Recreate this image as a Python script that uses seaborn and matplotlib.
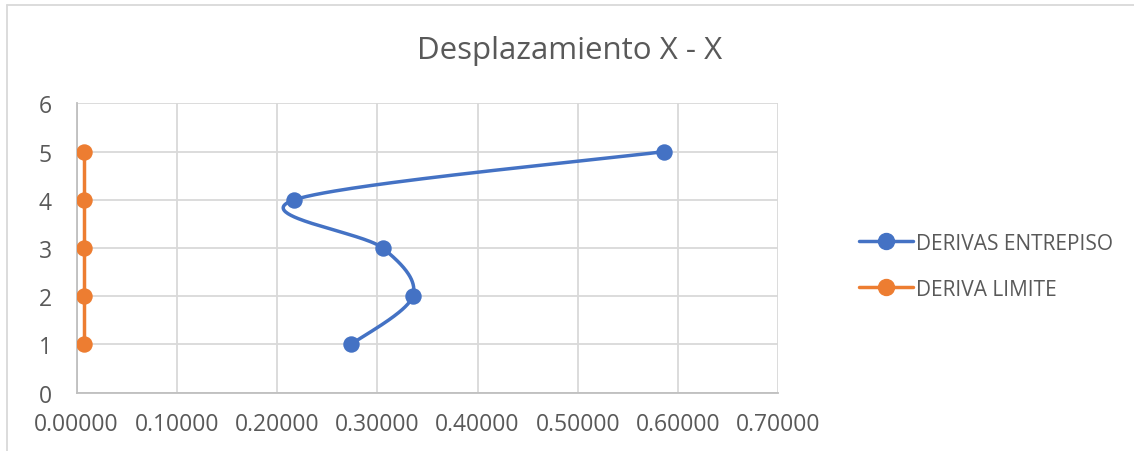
import numpy as np
import matplotlib
matplotlib.use("Agg")
import matplotlib.pyplot as plt
from matplotlib.lines import Line2D
import seaborn as sns

# Story drift data (x = drift, y = story level)
pisos = [1, 2, 3, 4, 5]
derivas_entrepiso = [0.2738, 0.3354, 0.3054, 0.2172, 0.5862]
deriva_limite = [0.007, 0.007, 0.007, 0.007, 0.007]
x_ticks = [0.0, 0.1, 0.2, 0.3, 0.4, 0.5, 0.6, 0.7]
y_ticks = [0, 1, 2, 3, 4, 5, 6]
titulo = "Desplazamiento X - X"
nombres = ["DERIVAS ENTREPISO", "DERIVA LIMITE"]

AZUL = "#4472C4"
NARANJA = "#ED7D31"
GRIS_TXT = "#595959"
GRIS_GRID = "#D9D9D9"

sns.set_theme(style="white")
plt.rcParams["font.family"] = ["Open Sans", "DejaVu Sans"]


def catmull_rom(xs, ys, n=60):
    """Parametric smooth curve through the points (Excel-like smoothed line)."""
    p = np.column_stack([xs, ys]).astype(float)
    p = np.vstack([p[0], p, p[-1]])
    out = []
    t = np.linspace(0, 1, n)[:, None]
    for i in range(1, len(p) - 2):
        p0, p1, p2, p3 = p[i - 1], p[i], p[i + 1], p[i + 2]
        m1 = (p2 - p0) / 2
        m2 = (p3 - p1) / 2
        h00 = 2 * t**3 - 3 * t**2 + 1
        h10 = t**3 - 2 * t**2 + t
        h01 = -2 * t**3 + 3 * t**2
        h11 = t**3 - t**2
        seg = h00 * p1 + h10 * m1 + h01 * p2 + h11 * m2
        out.append(seg if i == 1 else seg[1:])
    c = np.vstack(out)
    return c[:, 0], c[:, 1]


fig = plt.figure(figsize=(11.34, 4.52), dpi=100)
ax = fig.add_axes([0.0676, 0.129, 0.6186, 0.6401])

# Smoothed drift curve and its markers
cx, cy = catmull_rom(derivas_entrepiso, pisos)
sns.lineplot(x=cx, y=cy, sort=False, estimator=None, ax=ax,
             color=AZUL, linewidth=2.5, zorder=3)
sns.scatterplot(x=derivas_entrepiso, y=pisos, ax=ax, color=AZUL,
                s=140, edgecolor=AZUL, linewidth=0, zorder=4)

# Drift limit
sns.lineplot(x=deriva_limite, y=pisos, sort=False, estimator=None, ax=ax,
             color=NARANJA, linewidth=2.5, zorder=3)
sns.scatterplot(x=deriva_limite, y=pisos, ax=ax, color=NARANJA,
                s=140, edgecolor=NARANJA, linewidth=0, zorder=4)

ax.set_xlim(x_ticks[0], x_ticks[-1])
ax.set_ylim(y_ticks[0], y_ticks[-1])
ax.set_xticks(x_ticks)
ax.set_yticks(y_ticks)
ax.set_xticklabels([f"{v:.5f}" for v in x_ticks])
ax.set_yticklabels([str(v) for v in y_ticks])
ax.tick_params(axis="both", length=0, labelsize=16.5, labelcolor=GRIS_TXT)
ax.tick_params(axis="x", pad=14)
ax.tick_params(axis="y", pad=18)

ax.grid(True, color=GRIS_GRID, linewidth=1.3)
ax.set_axisbelow(True)
for side in ["top", "right"]:
    ax.spines[side].set_visible(False)
for side in ["left", "bottom"]:
    ax.spines[side].set_color("#BFBFBF")
    ax.spines[side].set_linewidth(1.3)
ax.set_xlabel("")
ax.set_ylabel("")

fig.text(0.502, 0.888, titulo, ha="center", va="center",
         fontsize=22.5, color=GRIS_TXT)

handles = [
    Line2D([], [], color=AZUL, linewidth=2.5, marker="o", markersize=11.5),
    Line2D([], [], color=NARANJA, linewidth=2.5, marker="o", markersize=11.5),
]
fig.legend(handles, nombres, loc="center left",
           bbox_to_anchor=(0.741, 0.409), frameon=False,
           fontsize=15, labelcolor=GRIS_TXT, handlelength=2.6,
           handletextpad=0.15, labelspacing=1.2)

# Chart area border (left and top edges)
fig.add_artist(Line2D([7.3 / 1134, 7.3 / 1134], [0, 1 - 5.7 / 452],
                      transform=fig.transFigure, color=GRIS_GRID, linewidth=1.3))
fig.add_artist(Line2D([7.3 / 1134, 1], [1 - 5.7 / 452, 1 - 5.7 / 452],
                      transform=fig.transFigure, color=GRIS_GRID, linewidth=1.3))

fig.savefig("out.png", dpi=100, facecolor="white")
